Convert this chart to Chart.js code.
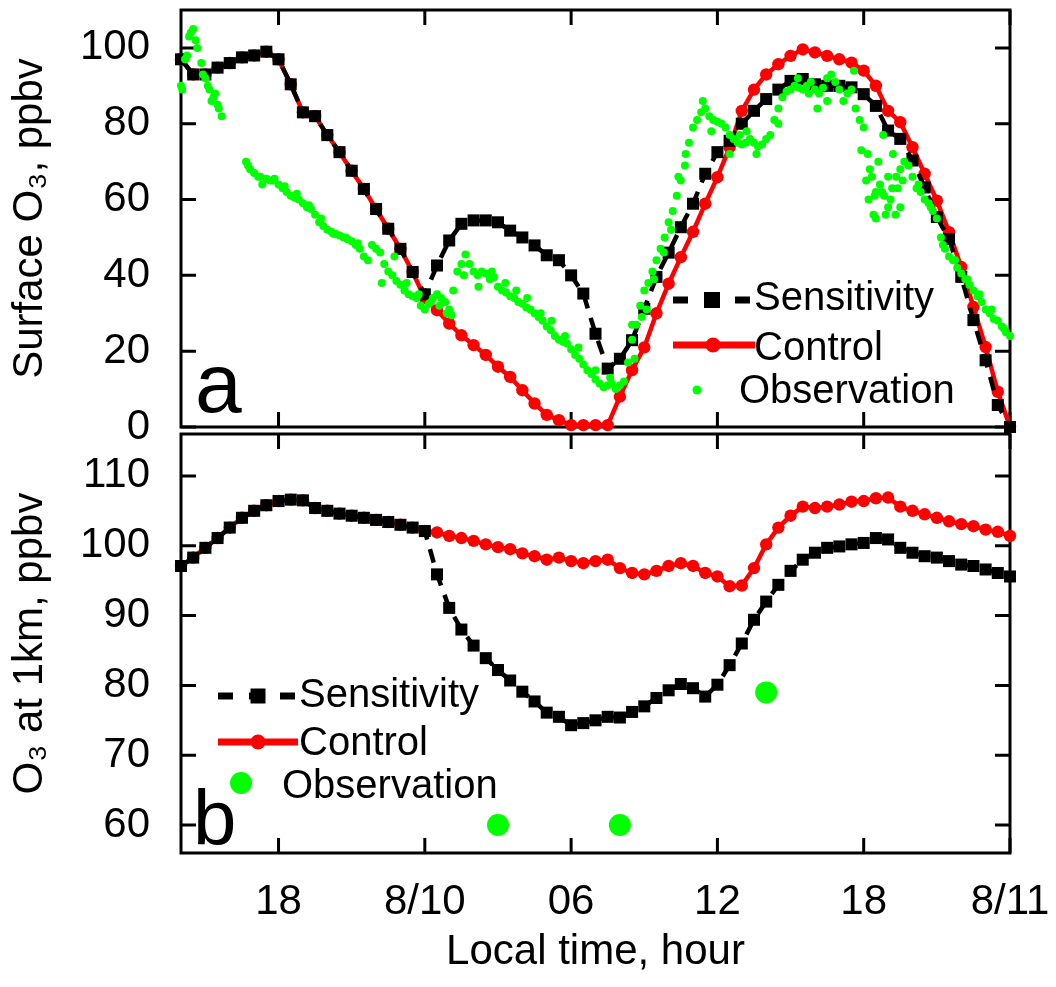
<!DOCTYPE html>
<html>
<head>
<meta charset="utf-8">
<script src="https://cdn.jsdelivr.net/npm/chart.js@4.4.0/dist/chart.umd.min.js"></script>
<style>
  body { margin: 0; background: #fff; }
  canvas { position: absolute; left: 0; }
  #topChart { top: 0; }
  #bottomChart { top: 432px; }
</style>
</head>
<body>
<canvas id="topChart" width="1056" height="460"></canvas>
<canvas id="bottomChart" width="1056" height="555"></canvas>
<script>
// hours since 14:00 on 8/9
const xTickHours = [4, 10, 16, 22, 28, 34];
const xTickLabels = ['18', '8/10', '06', '12', '18', '8/11'];
const topYTicks = [0, 20, 40, 60, 80, 100];
const bottomYTicks = [60, 70, 80, 90, 100, 110];

// model output, every half hour
const modelHours = [0, 0.5, 1, 1.5, 2, 2.5, 3, 3.5, 4, 4.5, 5, 5.5, 6, 6.5, 7, 7.5, 8, 8.5, 9, 9.5,
  10, 10.5, 11, 11.5, 12, 12.5, 13, 13.5, 14, 14.5, 15, 15.5, 16, 16.5, 17, 17.5, 18, 18.5, 19, 19.5,
  20, 20.5, 21, 21.5, 22, 22.5, 23, 23.5, 24, 24.5, 25, 25.5, 26, 26.5, 27, 27.5, 28, 28.5, 29, 29.5,
  30, 30.5, 31, 31.5, 32, 32.5, 33, 33.5, 34];

const sensSurface = [97, 93, 93, 94.8, 96, 97.5, 98, 99, 97, 90.4,
  83, 82, 77, 72.5, 67.6, 62.8, 57.5, 52.3, 47, 40.9,
  35, 42.6, 49.2, 53.6, 54.5, 54.5, 54, 51.8, 50, 47.9,
  45.3, 44, 40, 35.2, 24.6, 15.4, 18, 22.9, 31.2, 39.6,
  46, 52.7, 58.9, 66.8, 72.5, 75.5, 80, 83.4, 86.5, 89,
  91.3, 91.8, 90.4, 90, 90, 89.6, 87.8, 84.7, 78.2, 76,
  70.3, 63.2, 55.4, 49.6, 39.6, 28.2, 17.6, 5.8, 0];

const ctrlSurface = [97, 93, 93, 94.8, 96, 97.5, 98, 99, 97, 90.4,
  83, 82, 77, 72.5, 67.6, 62.8, 57.5, 52.3, 47, 40.9,
  34, 30.8, 27.3, 24.2, 21.6, 19, 15.9, 13.2, 9.7, 6.2,
  3.2, 1.8, 0.5, 0.5, 0.5, 0.5, 8, 15, 21, 30,
  37.8, 44.8, 51.5, 58.9, 65.9, 73.8, 83.4, 89, 93, 95.7,
  97.9, 99.6, 98.8, 97.9, 97, 96.1, 94, 90, 83.4, 80.4,
  73.8, 66.8, 59.7, 51.4, 42.2, 31.7, 21.1, 9.3, 0];

const sens1km = [97.1, 98.3, 99.7, 101.1, 102.6, 104, 105, 105.8, 106.4, 106.6,
  106.5, 105.4, 105, 104.6, 104.3, 104, 103.7, 103.4, 103, 102.6,
  102.1, 95.9, 91.1, 88, 85.7, 83.9, 82.2, 80.7, 79.1, 77.7,
  76.1, 75.5, 74.3, 74.6, 75, 75.5, 75.4, 76.2, 77, 78.2,
  79.3, 80.2, 79.6, 78.4, 80.1, 82.9, 86, 89.4, 92, 94.4,
  96.4, 98, 99, 99.7, 99.9, 100.2, 100.4, 101.1, 100.9, 99.7,
  99, 98.5, 98.3, 97.8, 97.3, 97.1, 96.6, 96.1, 95.6];

const ctrl1km = [97.1, 98.3, 99.7, 101.1, 102.6, 104, 105, 105.8, 106.4, 106.6,
  106.5, 105.4, 105, 104.6, 104.3, 104, 103.7, 103.4, 103, 102.6,
  102.1, 101.9, 101.4, 101.1, 100.7, 100.2, 99.8, 99.5, 98.9, 98.5,
  98, 98.3, 97.8, 97.5, 97.8, 98, 96.8, 96.1, 95.9, 96.4,
  97.1, 97.5, 97.1, 96.1, 95.6, 94.2, 94.3, 96.8, 100.2, 102.6,
  104.3, 105.6, 105.4, 105.6, 105.9, 106.3, 106.4, 106.8, 106.9, 105.6,
  105, 104.5, 104, 103.5, 103.1, 102.8, 102.3, 102, 101.4];

// surface observations, minutes since 14:00 on 8/9
const obsMinutes = [
  0, 10, 20, 30, 40, 50, 60, 70, 80, 90, 100, 110,
  120, 130, 140, 150, 160, 170, 180, 190, 200, 210, 220, 230,
  240, 250, 260, 270, 280, 290, 300, 310, 320, 330, 340, 350,
  360, 370, 380, 390, 400, 410, 420, 430, 440, 450, 460, 470,
  480, 490, 500, 510, 520, 530, 540, 550, 560, 570, 580, 590,
  600, 610, 620, 630, 640, 650, 660, 670, 680, 690, 700, 710,
  720, 730, 740, 750, 760, 770, 780, 790, 800, 810, 820, 830,
  840, 850, 860, 870, 880, 890, 900, 910, 920, 930, 940, 950,
  960, 970, 980, 990, 1000, 1010, 1020, 1030, 1040, 1050, 1060, 1070,
  1080, 1090, 1100, 1110, 1120, 1130, 1140, 1150, 1160, 1170, 1180, 1190,
  1200, 1210, 1220, 1230, 1240, 1250, 1260, 1270, 1280, 1290, 1300, 1310,
  1320, 1330, 1340, 1350, 1360, 1370, 1380, 1390, 1400, 1410, 1420, 1430,
  1440, 1450, 1460, 1470, 1480, 1490, 1500, 1510, 1520, 1530, 1540, 1550,
  1560, 1570, 1580, 1590, 1600, 1610, 1620, 1630, 1640, 1650, 1660, 1670,
  1680, 1690, 1700, 1710, 1720, 1730, 1740, 1750, 1760, 1770, 1780, 1790,
  1800, 1810, 1820, 1830, 1840, 1850, 1860, 1870, 1880, 1890, 1900, 1910,
  1920, 1930, 1940, 1950, 1960, 1970, 1980, 1990, 2000, 2010, 2020, 2030,
  2040];

const obsO3 = [
  90, 97, 103, 105, 100, 96, 92, 89, 87, 85, 82, null,
  null, null, null, null, 70, 68, 67, 66, 64, 65.5, 65, 65.5,
  64, 63, 62, 61, 60.5, 60, 59, 58, 57.5, 56, 54, 53,
  52, 51.5, 51, 50.5, 50, 49.5, 49, 48, 47, 45, 44, 48,
  47, 46, 43, 41, 40, 38.5, 37.5, 36, 35, 34.5, 34, 32,
  31, 32.5, 34, 35, 34, 33, 31, 36, 41, 43, 45.5, 43,
  41, 40, 41, 40.5, 39, 39.5, 37, 36, 35.5, 34.5, 34, 33,
  32.5, 31.5, 31, 30, 29, 28, 26.5, 25.5, 24, 23, 22.5, 22,
  20.5, 19, 18, 16.5, 15, 14, 12.5, 11.5, 10.5, 11, 11.5, 10,
  11, 12, 17, 23, 27, 32, 36, 38, 41, 44, 47, 50,
  54, 57, 61, 65, 69, 75, 79, 81, 83, 84, 82, 81,
  80.5, 80, 79, 77, 76, 75, 74.5, 75, 76, 75, 74, 74.5,
  76, 77, 81, 84, 87, 88.5, 89, 90, 89.5, 89, 90, 91,
  89, 88, 89.5, 92, 93, 91, 89, 86, 88, 89, 84, 81,
  79, 72, 66, 62, 64, 61, 58, 63, 66, 68, 70, 69,
  66, 63, 62, 60, 59, 57, 55, 50, 47, 45, 44, 42,
  40.5, 39, 37.5, 36, 34.5, 33, 31, 30, 28.5, 28, 26.5, 25,
  24];

// extra scattered observations
const obsExtraMinutes = [3, 15, 24, 36, 54, 66, 75, 84, 93,
  165, 195, 225, 255, 285, 315, 345, 375, 405, 435,
  494, 525, 555, 585, 615, 636, 654, 666, 696, 732, 765, 798, 825, 852, 885, 912, 945, 978, 1020, 1056,
  1110, 1116, 1134, 1146, 1164, 1188, 1206, 1224, 1242, 1284, 1305, 1350, 1375, 1392, 1416,
  1470, 1518, 1545, 1566, 1590, 1656, 1674, 1686, 1692, 1695, 1704, 1707, 1710, 1716,
  1725, 1728, 1734, 1740, 1746, 1752, 1758, 1764, 1770, 1776,
  1815, 1845, 1875, 1905, 1935, 1965, 1995, 2025];
const obsExtraO3 = [89, 98, 104, 102, 93, 90, 86, 88, 84,
  69, 66, 65, 63.5, 61.5, 58.5, 55, 51, 50, 48.5,
  38, 45, 38, 35, 33, 32, 30, 29.5, 40, 37, 41, 38, 36, 34, 30, 28, 24, 21, 15, 13,
  27, 18, 29, 31, 39, 46, 52, 66, 72, 86, 78, 72, 77, 78, 72,
  80, 92, 88, 84, 86, 94, 73, 65, 60, 68, 56, 61, 55, 70,
  62, 77, 56, 66, 60, 72, 56, 63, 58, 65,
  64, 58, 48, 44, 39, 35, 31, 26];

// 1 km aircraft observations
const obs1kmHours = [13, 18, 24];
const obs1kmO3 = [60, 60, 79];

const FONT = "'Liberation Sans', Arial, Helvetica, sans-serif";
const GREEN = '#00ff00';
const RED = '#ff0000';

function toPoints(xs, ys) {
  return xs.map((x, i) => ({x: x, y: ys[i]})).filter(p => p.y !== null);
}

const obsPoints = toPoints(obsMinutes.map(m => m / 60), obsO3)
  .concat(toPoints(obsExtraMinutes.map(m => m / 60), obsExtraO3));

// inward ticks on all four sides plus the box
const frameTicks = {
  id: 'frameTicks',
  beforeDatasetsDraw(chart) {
    const {ctx, chartArea: a, scales: {x, y}} = chart;
    ctx.save();
    ctx.strokeStyle = '#000';
    ctx.lineWidth = 3;
    ctx.beginPath();
    xTickHours.forEach(h => {
      const px = x.getPixelForValue(h);
      ctx.moveTo(px, a.bottom); ctx.lineTo(px, a.bottom - 15);
      ctx.moveTo(px, a.top); ctx.lineTo(px, a.top + 15);
    });
    y.ticks.forEach(t => {
      const py = y.getPixelForValue(t.value);
      ctx.moveTo(a.left, py); ctx.lineTo(a.left + 15, py);
      ctx.moveTo(a.right, py); ctx.lineTo(a.right - 15, py);
    });
    ctx.stroke();
    ctx.strokeRect(a.left, a.top, a.right - a.left, a.bottom - a.top);
    ctx.restore();
  }
};

// legend rows and panel letter, drawn by hand
function drawSensSample(ctx, x0, x1, y, cx, side) {
  ctx.save();
  ctx.strokeStyle = '#000';
  ctx.lineWidth = 7;
  ctx.setLineDash([15, 16]);
  ctx.beginPath(); ctx.moveTo(x0, y); ctx.lineTo(x1, y); ctx.stroke();
  ctx.fillStyle = '#000';
  ctx.fillRect(cx - side / 2, y - side / 2, side, side);
  ctx.restore();
}
function drawCtrlSample(ctx, x0, x1, y, cx, r) {
  ctx.save();
  ctx.strokeStyle = RED;
  ctx.lineWidth = 7;
  ctx.beginPath(); ctx.moveTo(x0, y); ctx.lineTo(x1, y); ctx.stroke();
  ctx.fillStyle = RED;
  ctx.beginPath(); ctx.arc(cx, y, r, 0, Math.PI * 2); ctx.fill();
  ctx.restore();
}
function drawDot(ctx, cx, cy, r) {
  ctx.save();
  ctx.fillStyle = GREEN;
  ctx.beginPath(); ctx.arc(cx, cy, r, 0, Math.PI * 2); ctx.fill();
  ctx.restore();
}
function drawText(ctx, text, x, y, size) {
  ctx.save();
  ctx.fillStyle = '#000';
  ctx.font = size + 'px ' + FONT;
  ctx.textAlign = 'left';
  ctx.textBaseline = 'alphabetic';
  ctx.fillText(text, x, y);
  ctx.restore();
}

const topDecor = {
  id: 'topDecor',
  afterDraw(chart) {
    const ctx = chart.ctx;
    drawSensSample(ctx, 673, 750, 300, 712, 16);
    drawText(ctx, 'Sensitivity', 754, 310, 40);
    drawCtrlSample(ctx, 673, 755, 345, 713, 7.5);
    drawText(ctx, 'Control', 754, 360, 40);
    drawDot(ctx, 697, 390, 4.5);
    drawText(ctx, 'Observation', 739, 403, 40);
    drawText(ctx, 'a', 195, 412, 84);
  }
};

const bottomDecor = {
  id: 'bottomDecor',
  afterDraw(chart) {
    const ctx = chart.ctx;
    const off = 432;
    drawSensSample(ctx, 218, 295, 696 - off, 258, 15);
    drawText(ctx, 'Sensitivity', 299, 707 - off, 40);
    drawCtrlSample(ctx, 218, 298, 742 - off, 258, 7.5);
    drawText(ctx, 'Control', 299, 755 - off, 40);
    drawDot(ctx, 241, 783 - off, 11);
    drawText(ctx, 'Observation', 282, 798 - off, 40);
    drawText(ctx, 'b', 193, 845 - off, 78);
  }
};

function xScale(showLabels) {
  return {
    type: 'linear',
    min: 0,
    max: 34,
    display: showLabels,
    grid: {display: false, drawTicks: false},
    border: {display: false},
    afterBuildTicks: s => { s.ticks = xTickHours.map(v => ({value: v})); },
    afterFit: s => {
      if (showLabels) s.height = 134;
      s.paddingLeft = 0;
      s.paddingRight = 0;
    },
    ticks: {
      color: '#000',
      padding: 24,
      maxRotation: 0,
      autoSkip: false,
      font: {family: FONT, size: 42},
      callback: v => xTickLabels[xTickHours.indexOf(v)]
    },
    title: {
      display: showLabels,
      text: 'Local time, hour',
      color: '#000',
      font: {family: FONT, size: 42},
      padding: {top: 0, bottom: 9}
    }
  };
}

function yScale(min, max, tickValues, titleText) {
  return {
    type: 'linear',
    min: min,
    max: max,
    grid: {display: false, drawTicks: false},
    border: {display: false},
    afterBuildTicks: s => { s.ticks = tickValues.map(v => ({value: v})); },
    afterFit: s => {
      s.width = 181;
      s.paddingTop = 0;
      s.paddingBottom = 0;
    },
    ticks: {
      color: '#000',
      padding: 31,
      font: {family: FONT, size: 42}
    },
    title: {
      display: true,
      text: titleText,
      color: '#000',
      font: {family: FONT, size: 42},
      padding: {top: 5, bottom: 0}
    }
  };
}

const sensStyle = {
  borderColor: '#000',
  borderWidth: 4.5,
  borderDash: [14, 10],
  pointStyle: 'rect',
  pointRadius: 8.5,
  pointBackgroundColor: '#000',
  pointBorderWidth: 0,
  tension: 0,
  clip: false
};
const ctrlStyle = {
  borderColor: RED,
  borderWidth: 4.5,
  pointStyle: 'circle',
  pointRadius: 6.2,
  pointBackgroundColor: RED,
  pointBorderWidth: 0,
  tension: 0,
  clip: false
};

new Chart(document.getElementById('topChart'), {
  type: 'line',
  data: {
    datasets: [
      {label: 'Observation', data: obsPoints, showLine: false, pointRadius: 4,
        pointBackgroundColor: GREEN, pointBorderWidth: 0, clip: false},
      Object.assign({label: 'Sensitivity', data: toPoints(modelHours, sensSurface)}, sensStyle),
      Object.assign({label: 'Control', data: toPoints(modelHours, ctrlSurface)}, ctrlStyle)
    ]
  },
  options: {
    responsive: false,
    animation: false,
    events: [],
    layout: {autoPadding: false, padding: {top: 10, right: 46, bottom: 33, left: 0}},
    plugins: {legend: {display: false}, tooltip: {enabled: false}},
    scales: {
      x: xScale(false),
      y: yScale(0, 110, topYTicks, 'Surface O\u2083, ppbv')
    }
  },
  plugins: [frameTicks, topDecor]
});

new Chart(document.getElementById('bottomChart'), {
  type: 'line',
  data: {
    datasets: [
      {label: 'Observation', data: toPoints(obs1kmHours, obs1kmO3), showLine: false, pointRadius: 11,
        pointBackgroundColor: GREEN, pointBorderWidth: 0, clip: false},
      Object.assign({label: 'Sensitivity', data: toPoints(modelHours, sens1km)}, sensStyle),
      Object.assign({label: 'Control', data: toPoints(modelHours, ctrl1km)}, ctrlStyle)
    ]
  },
  options: {
    responsive: false,
    animation: false,
    events: [],
    layout: {autoPadding: false, padding: {top: 2, right: 46, bottom: 0, left: 0}},
    plugins: {legend: {display: false}, tooltip: {enabled: false}},
    scales: {
      x: xScale(true),
      y: yScale(56, 116, bottomYTicks, 'O\u2083 at 1km, ppbv')
    }
  },
  plugins: [frameTicks, bottomDecor]
});
</script>
</body>
</html>
